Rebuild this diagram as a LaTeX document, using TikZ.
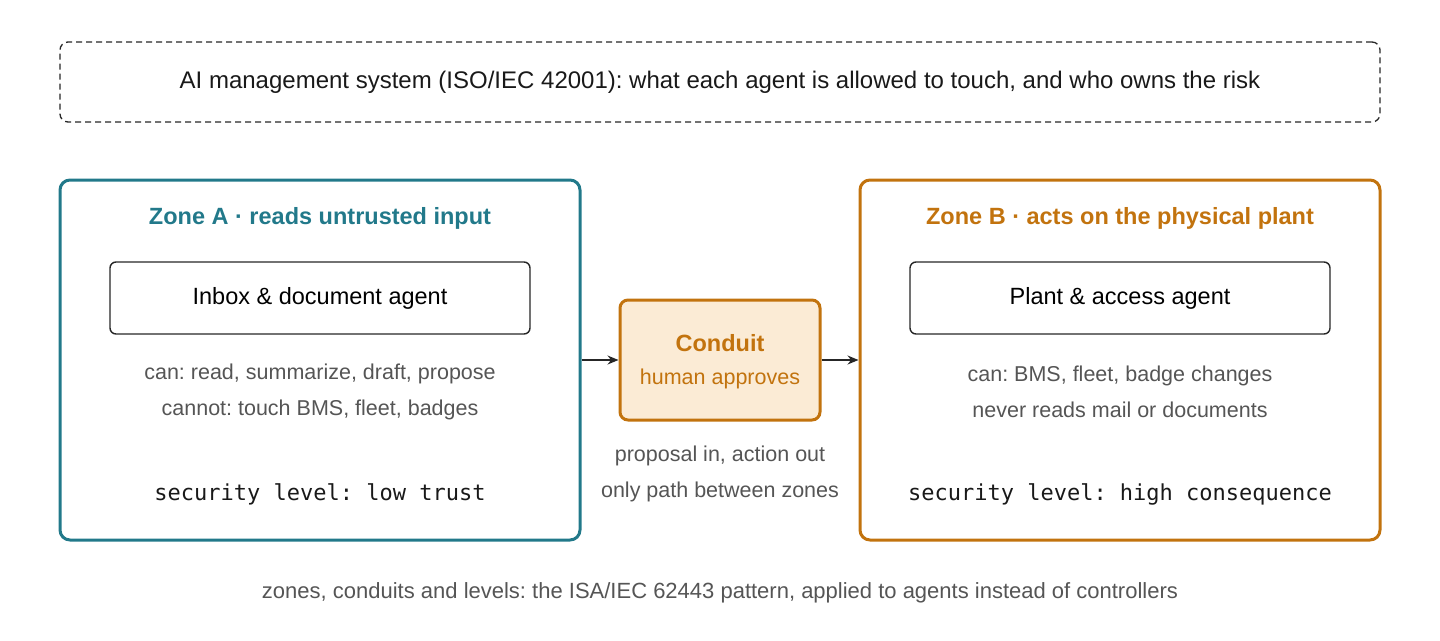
\documentclass[tikz,border=0pt]{standalone}
\usepackage{fontspec}
\setmainfont{Liberation Sans}
\setmonofont{DejaVu Sans Mono}
\usetikzlibrary{arrows.meta}
\definecolor{teal}{HTML}{22798A}
\definecolor{org}{HTML}{C2730E}
\definecolor{gry}{HTML}{555555}
\definecolor{cfill}{HTML}{FBEBD5}
\frenchspacing
\begin{document}
\begin{tikzpicture}[x=1pt,y=-1pt,
  zone/.style={draw=#1,line width=3pt,rounded corners=10pt,minimum width=520pt,minimum height=360pt},
  agent/.style={draw=black!85,line width=1.4pt,rounded corners=6pt,minimum width=420pt,minimum height=72pt,font=\fontsize{23.5}{26}\selectfont},
  ttl/.style={font=\fontsize{23.5}{26}\selectfont\bfseries,text=#1},
  note/.style={font=\fontsize{21.5}{36}\selectfont,text=gry,align=center},
  mono/.style={font=\fontsize{22}{26}\ttfamily,text=black!90},
  arr/.style={-{Stealth[length=11pt,width=9pt]},line width=1.4pt,black!85}]
\useasboundingbox (0,0) rectangle (1440,640);
\node[draw=black!85,dash pattern=on 6pt off 4pt,line width=1.3pt,rounded corners=8pt,minimum width=1320pt,minimum height=80pt,font=\fontsize{24}{28}\selectfont,text=black!90] (top) at (720,82) {AI management system (ISO/IEC 42001): what each agent is allowed to touch, and who owns the risk};
\node[zone=teal] (za) at (320,360) {};
\node[ttl=teal] (ta) at (320,218) {Zone A · reads untrusted input};
\node[agent] (aa) at (320,298) {Inbox \& document agent};
\node[note] (na) at (320,392) {can: read, summarize, draft, propose\\cannot: touch BMS, fleet, badges};
\node[mono] (sa) at (320,494) {security level: low trust};
\node[zone=org] (zb) at (1120,360) {};
\node[ttl=org] (tb) at (1120,218) {Zone B · acts on the physical plant};
\node[agent] (ab) at (1120,298) {Plant \& access agent};
\node[note] (nb) at (1120,392) {can: BMS, fleet, badge changes\\never reads mail or documents};
\node[mono] (sb) at (1120,494) {security level: high consequence};
\node[draw=org,fill=cfill,line width=3pt,rounded corners=8pt,minimum width=200pt,minimum height=120pt] (c) at (720,360) {};
\node[ttl=org] (ct) at (720,343) {Conduit};
\node[font=\fontsize{21.5}{24}\selectfont,text=org] (cs) at (720,379) {human approves};
\node[note] (cn) at (720,474) {proposal in, action out\\only path between zones};
\draw[arr] (za.east) -- (c.west);
\draw[arr] (c.east) -- (zb.west);
\node[font=\fontsize{22}{24}\selectfont,text=gry] (cap) at (720,593) {zones, conduits and levels: the ISA/IEC 62443 pattern, applied to agents instead of controllers};
\end{tikzpicture}
\end{document}
